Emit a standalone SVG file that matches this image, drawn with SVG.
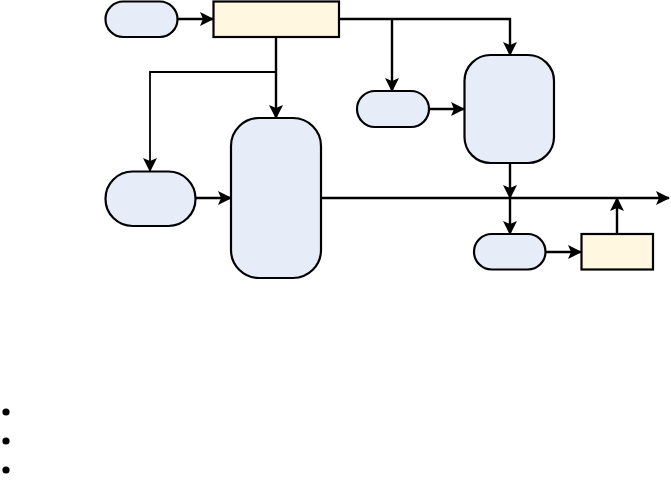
<svg xmlns="http://www.w3.org/2000/svg" width="671" height="484" viewBox="0 0 671 484">
<style>
.blue{fill:#e6edf8;stroke:#000;stroke-width:2.2}
.yel{fill:#fff7e0;stroke:#000;stroke-width:2.2}
.ln{fill:none;stroke:#000;stroke-width:2.4}
.thin{fill:none;stroke:#000;stroke-width:1.8}
</style>
<defs>
<marker id="ah" viewBox="0 0 14 14" refX="13" refY="7" markerWidth="14" markerHeight="14" orient="auto" markerUnits="userSpaceOnUse">
<path d="M0,0 L14,7 L0,14 L3,7 Z" fill="#000"/>
</marker>
</defs>
<rect width="671" height="484" fill="#fff"/>
<g id="connectors">
<path class="ln" d="M177,19 H213" marker-end="url(#ah)"/>
<path class="ln" d="M339,19 H510 V55" marker-end="url(#ah)"/>
<path class="ln" d="M392,19 V91" marker-end="url(#ah)"/>
<path class="ln" d="M429,109 H464" marker-end="url(#ah)"/>
<path class="ln" d="M276,37 V118" marker-end="url(#ah)"/>
<path class="thin" d="M276,72 H150 V171" marker-end="url(#ah)"/>
<path class="ln" d="M196,198 H231" marker-end="url(#ah)"/>
<path class="ln" d="M321,198 H669" marker-end="url(#ah)"/>
<path class="ln" d="M510,163 V198" marker-end="url(#ah)"/>
<path class="ln" d="M510,198 V234" marker-end="url(#ah)"/>
<path class="ln" d="M545,252 H581" marker-end="url(#ah)"/>
<path class="ln" d="M617,234 V198" marker-end="url(#ah)"/>
</g>
<g id="n1"><rect class="blue" x="105.5" y="1.5" width="72" height="35.5" rx="17.75"/></g>
<g id="n2"><rect class="yel" x="213.5" y="1.5" width="125.5" height="35.5"/></g>
<g id="n3"><rect class="blue" x="357" y="91" width="72" height="36" rx="18"/></g>
<g id="n4"><rect class="blue" x="464.5" y="55" width="89.5" height="108" rx="26"/></g>
<g id="n5"><rect class="blue" x="105.5" y="171.5" width="90" height="54.5" rx="27"/></g>
<g id="n6"><rect class="blue" x="231" y="118" width="90" height="160" rx="28"/></g>
<g id="n7"><rect class="blue" x="474" y="234" width="71.5" height="35.5" rx="17.75"/></g>
<g id="n8"><rect class="yel" x="581.5" y="234" width="71.5" height="35.5"/></g>
<g id="bullets">
<circle cx="6" cy="412" r="3.6" fill="#000"/>
<circle cx="6" cy="441" r="3.6" fill="#000"/>
<circle cx="6" cy="470" r="3.6" fill="#000"/>
</g>
</svg>
